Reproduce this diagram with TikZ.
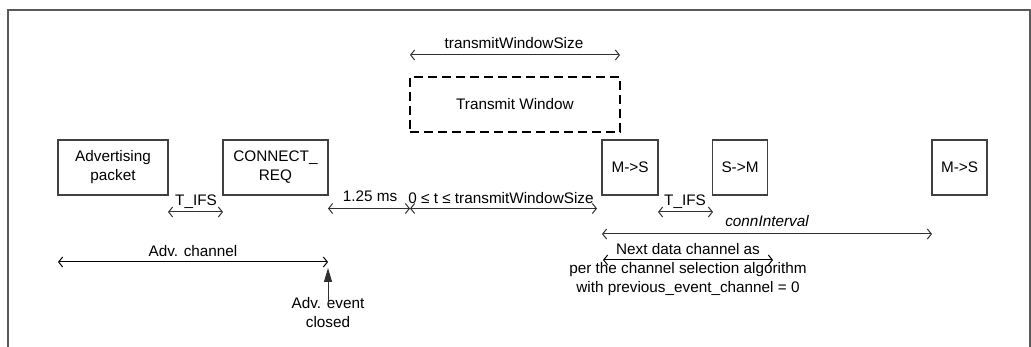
\documentclass[tikz,border=0pt]{standalone}
\usepackage{fontspec}
\setmainfont{Liberation Sans}
\usetikzlibrary{arrows.meta}
\definecolor{framec}{HTML}{5A5A5A}
\definecolor{boxc}{HTML}{404040}
\definecolor{linec}{HTML}{303030}
\begin{document}
\begin{tikzpicture}[x=1pt,y=-1pt,
  txt/.style={font=\fontsize{15.3}{19}\selectfont, inner sep=0pt, align=center, text=black},
  pkt/.style={txt, draw=boxc, line width=1.2pt, minimum height=55pt},
  dim/.style={draw=linec, line width=1pt, {Straight Barb[length=4pt,width=10pt]}-{Straight Barb[length=4pt,width=10pt]}},
]
\useasboundingbox (0,0) rectangle (1031,347);
% frame
\draw[framec, line width=1.3pt] (8,347) -- (8,10) -- (1030,10) -- (1030,347);

% packets
\node[pkt, minimum width=110pt] (adv) at (113,167.5) {Advertising\\packet};
\node[pkt, minimum width=105pt] (req) at (275.5,167.5) {CONNECT\_\\REQ};
\node[pkt, minimum width=56pt] (ms1) at (630,167.5) {M->S};
\node[pkt, minimum width=55pt] (sm) at (740,167.5) {S->M};
\node[pkt, minimum width=55pt] (ms2) at (959.5,167.5) {M->S};
\node[txt, draw=black, line width=2.6pt, dash pattern=on 9pt off 5pt,
      minimum width=210pt, minimum height=55pt] (tw) at (515,104.5) {Transmit Window};

% coordinates for dimension arrows
\coordinate (twsL) at (410,55);   \coordinate (twsR) at (620,55);
\coordinate (if1L) at (168,212);  \coordinate (if1R) at (223,212);
\coordinate (msL) at (328,208.5); \coordinate (msR) at (410,208.5);
\coordinate (ttR) at (597,208.5);
\coordinate (if2L) at (658,212);  \coordinate (if2R) at (713,212);
\coordinate (ciL) at (602,234);   \coordinate (ciR) at (932,234);
\coordinate (acL) at (58,262);    \coordinate (acR) at (328,262);
\coordinate (ndL) at (603,260);   \coordinate (ndR) at (773,260);
\coordinate (evB) at (328,305);   \coordinate (evT) at (328,268);

\draw[dim] (twsL) -- (twsR);
\draw[dim] (if1L) -- (if1R);
\draw[dim] (msL) -- (msR);
\draw[dim] (msR) -- (ttR);
\draw[dim] (if2L) -- (if2R);
\draw[dim] (ciL) -- (ciR);
\draw[dim, draw=black] (acL) -- (acR);
\draw[dim, draw=black] (ndL) -- (ndR);

% labels
\node[txt, anchor=base] (ltws) at (514,49) {transmitWindowSize};
\node[txt, anchor=base] (lif1) at (196,206) {T\_IFS};
\node[txt, anchor=base] (lms) at (370,202) {1.25 ms};
\node[txt, anchor=base] (ltt) at (501,204) {0 ≤ t ≤ transmitWindowSize};
\node[txt, anchor=base] (lif2) at (685,206) {T\_IFS};
\node[txt, anchor=base] (lci) at (767,227) {\itshape connInterval};
\node[txt, anchor=base] (lac) at (193,257) {Adv. channel};
\node[txt] (lev) at (328,313) {Adv. event\\closed};
\node[txt] (lnd) at (688,270) {Next data channel as\\per the channel selection algorithm\\with previous\_event\_channel = 0};

% event arrow
\draw[linec, line width=1pt, -{Triangle[length=14pt,width=8pt]}] (evB) -- (evT);
\end{tikzpicture}
\end{document}
